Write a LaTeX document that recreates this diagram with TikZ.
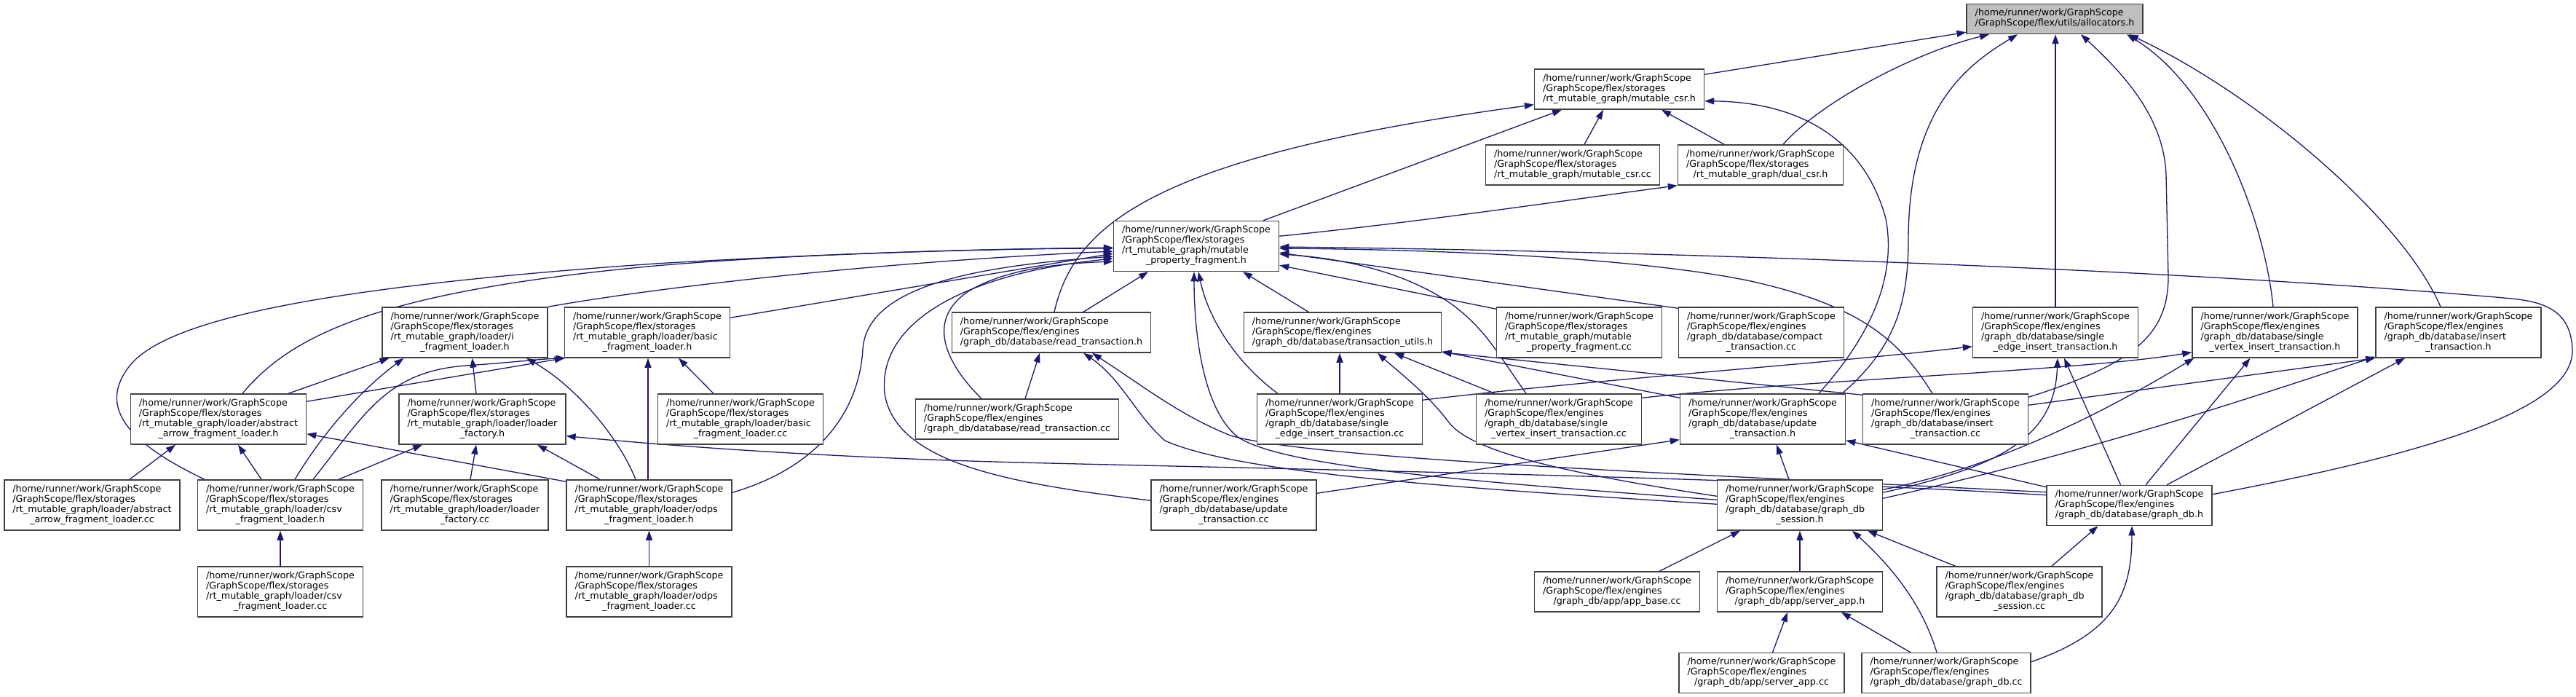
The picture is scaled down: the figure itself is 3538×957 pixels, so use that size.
\documentclass[tikz,border=0pt]{standalone}
\usepackage{fontspec}
\setmainfont{DejaVu Sans}
\usetikzlibrary{arrows.meta}
\pgfdeclarelayer{edgelayer}
\pgfsetlayers{edgelayer,main}
\definecolor{edgec}{HTML}{191970}
\definecolor{boxc}{HTML}{404040}
\definecolor{rootc}{HTML}{BFBFBF}
\newcommand{\GSh}{/home/runner/work/GraphScope}
\newcommand{\GSs}{/GraphScope/flex/storages}
\newcommand{\GSe}{/GraphScope/flex/engines}
\newcommand{\Ffour}[4]{\begin{tabular}{@{}l@{}}#1\\#2\\#3\\\multicolumn{1}{@{}c@{}}{#4}\end{tabular}}
\newcommand{\Fthree}[3]{\begin{tabular}{@{}l@{}}#1\\#2\\\multicolumn{1}{@{}c@{}}{#3}\end{tabular}}
\newcommand{\Ftwo}[2]{\begin{tabular}{@{}l@{}}#1\\\multicolumn{1}{@{}c@{}}{#2}\end{tabular}}
\begin{document}
\begin{tikzpicture}[x=1pt,y=-1pt,
  box/.style={draw=boxc, line width=1.5pt, fill=white, rectangle, inner xsep=11.5pt, inner ysep=6.5pt, font=\fontsize{12.7}{14}\selectfont},
  root/.style={box, fill=rootc},
  edge/.style={draw=edgec, line width=1.3pt, -{Triangle[length=13pt,width=9pt]}}]
\useasboundingbox (0,0) rectangle (3538,957);
\begin{pgfonlayer}{edgelayer}
\fill[white] (0,0) rectangle (3538,957);
\end{pgfonlayer}
% nodes
\node[root] (A) at (2822,26) {\Ftwo{\GSh}{/GraphScope/flex/utils/allocators.h}};
\node[box] (B) at (2224,122.5) {\Fthree{\GSh}{\GSs}{/rt\_mutable\_graph/mutable\_csr.h}};
\node[box] (C) at (2160,226.5) {\Fthree{\GSh}{\GSs}{/rt\_mutable\_graph/mutable\_csr.cc}};
\node[box] (D) at (2418,226.5) {\Fthree{\GSh}{\GSs}{/rt\_mutable\_graph/dual\_csr.h}};
\node[box] (M) at (1643,338) {\Ffour{\GSh}{\GSs}{/rt\_mutable\_graph/mutable}{\_property\_fragment.h}};
\node[box] (IFL) at (638.5,456.5) {\Ffour{\GSh}{\GSs}{/rt\_mutable\_graph/loader/i}{\_fragment\_loader.h}};
\node[box] (BFL) at (889,456.5) {\Ffour{\GSh}{\GSs}{/rt\_mutable\_graph/loader/basic}{\_fragment\_loader.h}};
\node[box] (RTH) at (1444,456.5) {\Fthree{\GSh}{\GSe}{/graph\_db/database/read\_transaction.h}};
\node[box] (TU) at (1844,456.5) {\Fthree{\GSh}{\GSe}{/graph\_db/database/transaction\_utils.h}};
\node[box] (MPFCC) at (2169,456.5) {\Ffour{\GSh}{\GSs}{/rt\_mutable\_graph/mutable}{\_property\_fragment.cc}};
\node[box] (CT) at (2419,456.5) {\Ffour{\GSh}{\GSe}{/graph\_db/database/compact}{\_transaction.cc}};
\node[box] (SEH) at (2823,456.5) {\Ffour{\GSh}{\GSe}{/graph\_db/database/single}{\_edge\_insert\_transaction.h}};
\node[box] (SVH) at (3124.5,456.5) {\Ffour{\GSh}{\GSe}{/graph\_db/database/single}{\_vertex\_insert\_transaction.h}};
\node[box] (ITH) at (3376.5,456.5) {\Ffour{\GSh}{\GSe}{/graph\_db/database/insert}{\_transaction.h}};
\node[box] (AAF) at (300,575.5) {\Ffour{\GSh}{\GSs}{/rt\_mutable\_graph/loader/abstract}{\_arrow\_fragment\_loader.h}};
\node[box] (LFH) at (662.5,575.5) {\Ffour{\GSh}{\GSs}{/rt\_mutable\_graph/loader/loader}{\_factory.h}};
\node[box] (BFLCC) at (1017,575.5) {\Ffour{\GSh}{\GSs}{/rt\_mutable\_graph/loader/basic}{\_fragment\_loader.cc}};
\node[box] (RTCC) at (1397,575.5) {\Fthree{\GSh}{\GSe}{/graph\_db/database/read\_transaction.cc}};
\node[box] (SECC) at (1840,575.5) {\Ffour{\GSh}{\GSe}{/graph\_db/database/single}{\_edge\_insert\_transaction.cc}};
\node[box] (SVCC) at (2141,575.5) {\Ffour{\GSh}{\GSe}{/graph\_db/database/single}{\_vertex\_insert\_transaction.cc}};
\node[box] (UTH) at (2421,575.5) {\Ffour{\GSh}{\GSe}{/graph\_db/database/update}{\_transaction.h}};
\node[box] (ITCC) at (2672,575.5) {\Ffour{\GSh}{\GSe}{/graph\_db/database/insert}{\_transaction.cc}};
\node[box] (AAFCC) at (126.5,693.5) {\Ffour{\GSh}{\GSs}{/rt\_mutable\_graph/loader/abstract}{\_arrow\_fragment\_loader.cc}};
\node[box] (CSVH) at (385,693.5) {\Ffour{\GSh}{\GSs}{/rt\_mutable\_graph/loader/csv}{\_fragment\_loader.h}};
\node[box] (LFCC) at (638.5,693.5) {\Ffour{\GSh}{\GSs}{/rt\_mutable\_graph/loader/loader}{\_factory.cc}};
\node[box] (ODPSH) at (891.5,693.5) {\Ffour{\GSh}{\GSs}{/rt\_mutable\_graph/loader/odps}{\_fragment\_loader.h}};
\node[box] (UTCC) at (1694.5,693.5) {\Ffour{\GSh}{\GSe}{/graph\_db/database/update}{\_transaction.cc}};
\node[box] (GDSH) at (2472,693.5) {\Ffour{\GSh}{\GSe}{/graph\_db/database/graph\_db}{\_session.h}};
\node[box] (GDH) at (2924.5,694) {\Fthree{\GSh}{\GSe}{/graph\_db/database/graph\_db.h}};
\node[box] (CSVCC) at (385,812.5) {\Ffour{\GSh}{\GSs}{/rt\_mutable\_graph/loader/csv}{\_fragment\_loader.cc}};
\node[box] (ODPSCC) at (891.5,812.5) {\Ffour{\GSh}{\GSs}{/rt\_mutable\_graph/loader/odps}{\_fragment\_loader.cc}};
\node[box] (APPBASE) at (2221,812.5) {\Fthree{\GSh}{\GSe}{/graph\_db/app/app\_base.cc}};
\node[box] (SAH) at (2472,812.5) {\Fthree{\GSh}{\GSe}{/graph\_db/app/server\_app.h}};
\node[box] (GDSCC) at (2773.5,812.5) {\Ffour{\GSh}{\GSe}{/graph\_db/database/graph\_db}{\_session.cc}};
\node[box] (SACC) at (2419.5,924) {\Fthree{\GSh}{\GSe}{/graph\_db/app/server\_app.cc}};
\node[box] (GDCC) at (2673,924) {\Fthree{\GSh}{\GSe}{/graph\_db/database/graph\_db.cc}};
% edges
\begin{pgfonlayer}{edgelayer}
% into allocators.h
\draw[edge] ([yshift=-8pt]B.north east) -- ([yshift=3pt]A.south west);
\draw[edge] ([xshift=31pt]D.north) .. controls (2500,140) and (2630,72) .. ([xshift=-90pt]A.south);
\draw[edge] ([xshift=109pt]UTH.north) .. controls (2600,480) and (2621,420) .. (2621,330) .. controls (2621,150) and (2700,90) .. ([xshift=-51pt]A.south);
\draw[edge] (SEH.north) -- (SEH.north |- A.south);
\draw[edge] ([yshift=-5pt]ITCC.north east) .. controls (2930,500) and (2978,460) .. (2978,380) -- (2975,240) .. controls (2972,160) and (2915,100) .. ([xshift=36pt]A.south);
\draw[edge] ([xshift=-2.5pt]SVH.north) .. controls (3110,300) and (3040,120) .. ([xshift=99pt]A.south);
\draw[edge] ([xshift=-24.5pt]ITH.north) .. controls (3300,300) and (3100,130) .. ([xshift=102pt]A.south);
% into mutable_csr.h
\draw[edge] ([xshift=4pt]RTH.north) .. controls (1475,310) and (1580,215) .. ([yshift=7pt]B.south west);
\draw[edge] ([xshift=92pt]M.north) -- ([xshift=-79pt]B.south);
\draw[edge] ([xshift=16pt]C.north) -- ([xshift=-22pt]B.south);
\draw[edge] ([xshift=-50pt]D.north) -- ([xshift=58pt]B.south);
\draw[edge] ([xshift=77pt]UTH.north) .. controls (2570,460) and (2605,380) .. (2590,300) .. controls (2560,190) and (2470,140) .. ([yshift=12pt]B.south east);
% into dual_csr.h
\draw[edge] ([yshift=-21.5pt]M.north east) .. controls (1950,305) and (2150,275) .. (D.south west);
% into mutable_property_fragment.h
\draw[edge] (IFL.north east) .. controls (900,395) and (1200,360) .. ([yshift=-7pt]M.west);
\draw[edge] ([yshift=-15pt]BFL.north east) -- ([yshift=-10pt]M.west);
\draw[edge] ([xshift=33pt]AAF.north) .. controls (400,460) and (520,400) .. (900,365) .. controls (1100,348) and (1350,342) .. ([yshift=-2pt]M.west);
\draw[edge] ([xshift=-104pt]CSVH.north) .. controls (180,610) and (130,560) .. (180,500) .. controls (240,430) and (500,390) .. (900,362) .. controls (1100,350) and (1350,341) .. ([yshift=-3pt]M.west);
\draw[edge] ([yshift=-18pt]ODPSH.north east) .. controls (1130,640) and (1180,560) .. (1185,480) .. controls (1190,390) and (1350,365) .. ([yshift=-14pt]M.west);
\draw[edge] ([yshift=-29pt]UTCC.north west) .. controls (1400,665) and (1230,640) .. (1215,540) .. controls (1205,440) and (1330,375) .. ([yshift=-17pt]M.west);
\draw[edge] ([xshift=-49pt]RTCC.north) .. controls (1300,500) and (1270,440) .. (1330,400) .. controls (1380,370) and (1450,362) .. ([yshift=-21pt]M.west);
\draw[edge] ([xshift=44pt]RTH.north) -- ([xshift=-66pt]M.south);
\draw[edge] ([yshift=-28pt]GDSH.north west) .. controls (2000,660) and (1760,640) .. (1700,600) .. controls (1650,560) and (1640,450) .. ([xshift=-3pt]M.south);
\draw[edge] ([xshift=-85pt]SECC.north) .. controls (1700,500) and (1660,440) .. ([xshift=3pt]M.south);
\draw[edge] ([xshift=-47pt]TU.north) -- ([xshift=64pt]M.south);
\draw[edge] ([yshift=-3pt]MPFCC.north west) -- ([yshift=9pt]M.south east);
\draw[edge] ([yshift=-2pt]CT.north west) -- ([yshift=-9pt]M.east);
\draw[edge] ([xshift=-45pt]SVCC.north) .. controls (2060,490) and (2040,450) .. (1990,415) .. controls (1930,375) and (1850,355) .. ([yshift=-11pt]M.east);
\draw[edge] ([xshift=-18pt]ITCC.north) .. controls (2610,470) and (2560,420) .. (2400,385) .. controls (2250,355) and (2000,343) .. ([yshift=-3pt]M.east);
\draw[edge] ([yshift=-13pt]GDH.north east) .. controls (3350,620) and (3535,560) .. (3533,480) .. controls (3531,430) and (3500,415) .. (3450,410) .. controls (3000,370) and (2300,345) .. ([yshift=-1pt]M.east);
% loaders
\draw[edge] ([xshift=96pt]AAF.north) -- ([xshift=-104pt]IFL.south);
\draw[edge] ([xshift=20pt]CSVH.north) .. controls (440,600) and (490,540) .. ([xshift=-84pt]IFL.south);
\draw[edge] ([xshift=-8.5pt]LFH.north) -- ([xshift=10pt]IFL.south);
\draw[edge] ([xshift=-18.5pt]ODPSH.north) .. controls (850,600) and (790,530) .. ([xshift=84.5pt]IFL.south);
\draw[edge] ([yshift=-11pt]AAF.north east) -- (BFL.south west);
\draw[edge] ([xshift=45pt]CSVH.north) .. controls (500,570) and (530,510) .. (640,502) .. controls (700,498) and (740,493) .. ([xshift=2pt]BFL.south west);
\draw[edge] ([xshift=-1.5pt]ODPSH.north) -- ([xshift=1pt]BFL.south);
\draw[edge] ([xshift=-37pt]BFLCC.north) -- ([xshift=43pt]BFL.south);
\draw[edge] ([xshift=51.5pt]AAFCC.north) -- ([xshift=-59pt]AAF.south);
\draw[edge] ([xshift=-26pt]CSVH.north) -- ([xshift=27pt]AAF.south);
\draw[edge] ([yshift=-3pt]ODPSH.north west) -- ([yshift=15pt]AAF.south east);
\draw[edge] ([xshift=80pt]CSVH.north) -- ([xshift=-82.5pt]LFH.south);
\draw[edge] ([xshift=7.5pt]LFCC.north) -- ([xshift=-8.5pt]LFH.south);
\draw[edge] ([xshift=-67.5pt]ODPSH.north) -- ([xshift=75.5pt]LFH.south);
\draw[edge] ([yshift=-14pt]GDH.north west) .. controls (2400,655) and (1800,645) .. (1400,635) .. controls (1100,627) and (900,610) .. ([yshift=12pt]LFH.south east);
\draw[edge] (CSVCC.north) -- (CSVH.south);
\draw[edge] (ODPSCC.north) -- (ODPSH.south);
% read_transaction.h
\draw[edge] ([xshift=11pt]RTCC.north) -- ([xshift=-16pt]RTH.south);
\draw[edge] ([yshift=-34pt]GDSH.north west) .. controls (2000,670) and (1700,650) .. (1600,605) .. controls (1560,570) and (1540,520) .. ([xshift=44pt]RTH.south);
\draw[edge] ([yshift=-10pt]GDH.north west) .. controls (2300,650) and (1800,630) .. (1690,598) .. controls (1620,570) and (1570,530) .. ([xshift=56pt]RTH.south);
% transaction_utils.h
\draw[edge] (SECC.north) -- ([xshift=-4pt]TU.south);
\draw[edge] ([xshift=-88pt]SVCC.north) -- ([xshift=71pt]TU.south);
\draw[edge] ([yshift=-6pt]UTH.north west) -- ([yshift=2pt]TU.south east);
\draw[edge] ([yshift=-2pt]ITCC.north west) -- ([yshift=1pt]TU.south east);
\draw[edge] ([yshift=-23pt]GDSH.north west) .. controls (2150,650) and (2020,620) .. (1990,580) .. controls (1960,540) and (1920,510) .. ([xshift=48pt]TU.south);
% insert headers
\draw[edge] ([yshift=-9pt]SECC.north east) .. controls (2200,520) and (2500,500) .. ([yshift=16pt]SEH.south west);
\draw[edge] ([yshift=-18pt]GDSH.north east) .. controls (2750,640) and (2822,600) .. ([xshift=3pt]SEH.south);
\draw[edge] ([xshift=-12pt]GDH.north) -- ([xshift=12pt]SEH.south);
\draw[edge] ([yshift=-6pt]SVCC.north east) .. controls (2500,520) and (2850,510) .. ([yshift=8pt]SVH.south west);
\draw[edge] ([yshift=-14pt]GDSH.north east) .. controls (2750,640) and (2900,560) .. ([xshift=3pt]SVH.south west);
\draw[edge] ([xshift=22.5pt]GDH.north) -- ([xshift=-34pt]SVH.south);
\draw[edge] ([yshift=-16pt]ITCC.north east) -- (ITH.south west);
\draw[edge] ([yshift=-26pt]GDSH.north east) .. controls (2850,625) and (3050,560) .. ([yshift=2pt]ITH.south west);
\draw[edge] ([xshift=51.5pt]GDH.north) -- ([xshift=-73.5pt]ITH.south);
% update_transaction.h
\draw[edge] ([yshift=-19pt]UTCC.north east) -- ([yshift=7pt]UTH.south west);
\draw[edge] ([xshift=-15pt]GDSH.north) -- ([xshift=19pt]UTH.south);
\draw[edge] ([yshift=-3pt]GDH.north west) -- ([yshift=6pt]UTH.south east);
% graph_db_session.h, server_app.h, graph_db.h
\draw[edge] ([xshift=58pt]APPBASE.north) -- ([xshift=-82pt]GDSH.south);
\draw[edge] (SAH.north) -- (GDSH.south);
\draw[edge] ([xshift=-13pt]GDCC.north) .. controls (2640,830) and (2600,780) .. ([xshift=72pt]GDSH.south);
\draw[edge] ([xshift=-88pt]GDSCC.north) -- ([xshift=93pt]GDSH.south);
\draw[edge] ([xshift=15pt]SACC.north) -- ([xshift=-17pt]SAH.south);
\draw[edge] ([xshift=-49pt]GDCC.north) -- ([xshift=57pt]SAH.south);
\draw[edge] ([xshift=44.5pt]GDSCC.north) -- ([xshift=-43pt]GDH.south);
\draw[edge] ([yshift=-13pt]GDCC.north east) .. controls (2900,870) and (2928,820) .. ([xshift=3.5pt]GDH.south);
\end{pgfonlayer}
\end{tikzpicture}
\end{document}
